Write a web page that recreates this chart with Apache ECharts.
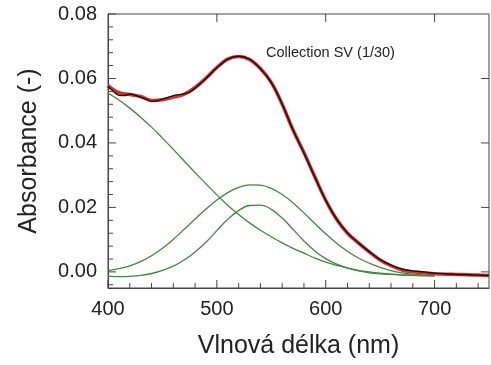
<!DOCTYPE html>
<html>
<head>
<meta charset="utf-8">
<script src="https://cdn.jsdelivr.net/npm/echarts@6/dist/echarts.min.js"></script>
<style>
  html, body { margin: 0; padding: 0; background: #fff; }
  #chart { width: 491px; height: 365px; }
</style>
</head>
<body>
<div id="chart"></div>
<script>
// measured spectrum (black)
const wlMeasured = [400, 405, 410, 415, 420, 425, 430, 435, 440, 445, 450, 455, 460, 465, 470, 475, 480,
  490, 500, 510, 520, 530, 540, 550, 560, 570, 580, 590, 600, 610, 620, 630, 640, 650, 660, 670, 680,
  690, 700, 710, 720, 730, 740, 750]
const absMeasured = [0.0575, 0.0560, 0.0548, 0.0547, 0.0552, 0.0548, 0.0542, 0.0536, 0.0529, 0.0531, 0.0536,
  0.0541, 0.0547, 0.0550, 0.0552, 0.0558, 0.0570,
  0.0600, 0.0633, 0.0660, 0.0669, 0.0660, 0.0630, 0.0587, 0.0521, 0.0440, 0.0369, 0.0294, 0.0222,
  0.0164, 0.0121, 0.0090, 0.0063, 0.0038, 0.0021, 0.0009, 0.0003, 0.0000, -0.0004, -0.0006, -0.0008,
  -0.0009, -0.0010, -0.0011]

// fitted spectrum (red)
const wlFit = [400, 410, 420, 430, 440, 450, 460, 470, 480, 490, 500, 510, 520, 530, 540, 550, 560, 570,
  580, 590, 600, 610, 620, 630, 640, 650, 660, 670, 680, 690, 700, 710, 720, 730, 740, 750]
const absFit = [0.0578, 0.0556, 0.0550, 0.0544, 0.0532, 0.0534, 0.0542, 0.0551, 0.0572, 0.0601, 0.0634,
  0.0660, 0.0668, 0.0659, 0.0631, 0.0588, 0.0520, 0.0440, 0.0370, 0.0295, 0.0222, 0.0163, 0.0120,
  0.0090, 0.0062, 0.0037, 0.0019, 0.0006, 0.0000, -0.0003, -0.0006, -0.0007, -0.0008, -0.0009,
  -0.0010, -0.0011]

// fit components (green)
const wlComp = [400, 410, 420, 430, 440, 450, 460, 470, 480, 490, 500, 510, 520, 530, 540, 550, 560, 570,
  580, 590, 600, 610, 620, 630, 640, 650, 660, 670, 680, 690, 700]
const compA = [0.0555, 0.0533, 0.0508, 0.0480, 0.0449, 0.0415, 0.0380, 0.0344, 0.0308, 0.0273, 0.0239,
  0.0207, 0.0178, 0.0152, 0.0129, 0.0109, 0.0090, 0.0073, 0.0058, 0.0043, 0.0030, 0.0020, 0.0012,
  0.0005, 0.0000, -0.0004, -0.0007, -0.0009, -0.0010, -0.0011, -0.0012]
const compB = [0.0004, 0.0010, 0.0019, 0.0032, 0.0050, 0.0073, 0.0101, 0.0132, 0.0164, 0.0195, 0.0223,
  0.0246, 0.0262, 0.0270, 0.0269, 0.0259, 0.0240, 0.0214, 0.0183, 0.0150, 0.0118, 0.0089, 0.0064,
  0.0043, 0.0027, 0.0014, 0.0004, -0.0003, -0.0007, -0.0010, -0.0011]
const compC = [-0.0013, -0.0015, -0.0014, -0.0011, -0.0005, 0.0005, 0.0018, 0.0037, 0.0062, 0.0092,
  0.0128, 0.0163, 0.0190, 0.0206, 0.0207, 0.0194, 0.0167, 0.0132, 0.0096, 0.0065, 0.0041, 0.0024,
  0.0012, 0.0003, -0.0003, -0.0006, -0.0008, -0.0010, -0.0011, -0.0012, -0.0012]

// ticks
const xTickLabels = [400, 500, 600, 700]
const xTopTicks = [500, 600, 700]
const xMinorTicks = [420, 440, 460, 480, 520, 540, 560, 580, 620, 640, 660, 680, 720, 740]
const yTickLabels = [0, 0.02, 0.04, 0.06, 0.08]
const yRightTicks = [0, 0.02, 0.04, 0.06]
const yMinorTicks = [-0.004, 0.004, 0.008, 0.012, 0.016, 0.024, 0.028, 0.032, 0.036, 0.044, 0.048,
  0.052, 0.056, 0.064, 0.068, 0.072, 0.076]

const X_MIN = 400
const X_MAX = 750
const Y_MIN = -0.005
const Y_MAX = 0.08

const pairs = (xs, ys) => xs.map((x, i) => [x, ys[i]])

const FONT = '"Liberation Sans", Arial, sans-serif'
const AXIS_COLOR = '#444'
const GREEN = '#3f8a3f'

const myChart = echarts.init(document.getElementById('chart'))

// inward ticks as thin rect symbols sitting on the frame
const tickSeries = (side, values, length) => {
  const vertical = side === 'bottom' || side === 'top'
  let data, offset
  if (side === 'bottom') { data = values.map(v => [v, Y_MIN]); offset = [0, -length / 2] }
  if (side === 'top') { data = values.map(v => [v, Y_MAX]); offset = [0, length / 2] }
  if (side === 'left') { data = values.map(v => [X_MIN, v]); offset = [length / 2, 0] }
  if (side === 'right') { data = values.map(v => [X_MAX, v]); offset = [-length / 2, 0] }
  return {
    type: 'scatter',
    silent: true,
    clip: false,
    z: 10,
    symbol: 'rect',
    symbolSize: vertical ? [1, length] : [length, 1],
    symbolOffset: offset,
    itemStyle: { color: AXIS_COLOR, opacity: 1 },
    data: data
  }
}

const curve = (xs, ys, color, width, smooth) => ({
  type: 'line',
  data: pairs(xs, ys),
  smooth: smooth,
  showSymbol: false,
  lineStyle: { color: color, width: width }
})

const option = {
  animation: false,
  grid: {
    left: 108,
    top: 14,
    right: 2,
    bottom: 77,
    show: true,
    borderColor: AXIS_COLOR,
    borderWidth: 1,
    backgroundColor: 'transparent'
  },
  graphic: [
    {
      type: 'text',
      left: 266,
      top: 45,
      style: { text: 'Collection SV (1/30)', fontSize: 14.5, fontFamily: FONT, fill: '#222' }
    }
  ],
  xAxis: {
    type: 'value',
    min: X_MIN,
    max: X_MAX,
    position: 'bottom',
    name: 'Vlnová délka (nm)',
    nameLocation: 'middle',
    nameGap: 46,
    nameTextStyle: { fontSize: 25, fontFamily: FONT, color: '#222' },
    axisLine: { show: true, onZero: false, lineStyle: { color: AXIS_COLOR, width: 1 } },
    axisTick: { show: false },
    axisLabel: { customValues: xTickLabels, fontSize: 20, fontFamily: FONT, color: '#222', margin: 11 },
    splitLine: { show: false }
  },
  yAxis: {
    type: 'value',
    min: Y_MIN,
    max: Y_MAX,
    position: 'left',
    name: 'Absorbance (-)',
    nameLocation: 'middle',
    nameGap: 66,
    nameTextStyle: { fontSize: 25, fontFamily: FONT, color: '#222' },
    axisLine: { show: true, onZero: false, lineStyle: { color: AXIS_COLOR, width: 1 } },
    axisTick: { show: false },
    axisLabel: {
      customValues: yTickLabels,
      fontSize: 20,
      fontFamily: FONT,
      color: '#222',
      margin: 11,
      formatter: v => v.toFixed(2)
    },
    splitLine: { show: false }
  },
  series: [
    curve(wlComp, compA, GREEN, 1.3, 0.4),
    curve(wlComp, compB, GREEN, 1.3, 0.4),
    curve(wlComp, compC, GREEN, 1.3, 0.4),
    curve(wlFit, absFit, '#d9302c', 3.5, 0.4),
    curve(wlMeasured, absMeasured, '#1a1010', 1.4, 0.3),
    tickSeries('bottom', xTickLabels, 8),
    tickSeries('bottom', xMinorTicks, 5),
    tickSeries('top', xTopTicks, 8),
    tickSeries('left', yTickLabels, 8),
    tickSeries('left', yMinorTicks, 5),
    tickSeries('right', yRightTicks, 8)
  ]
}

myChart.setOption(option)
</script>
</body>
</html>
